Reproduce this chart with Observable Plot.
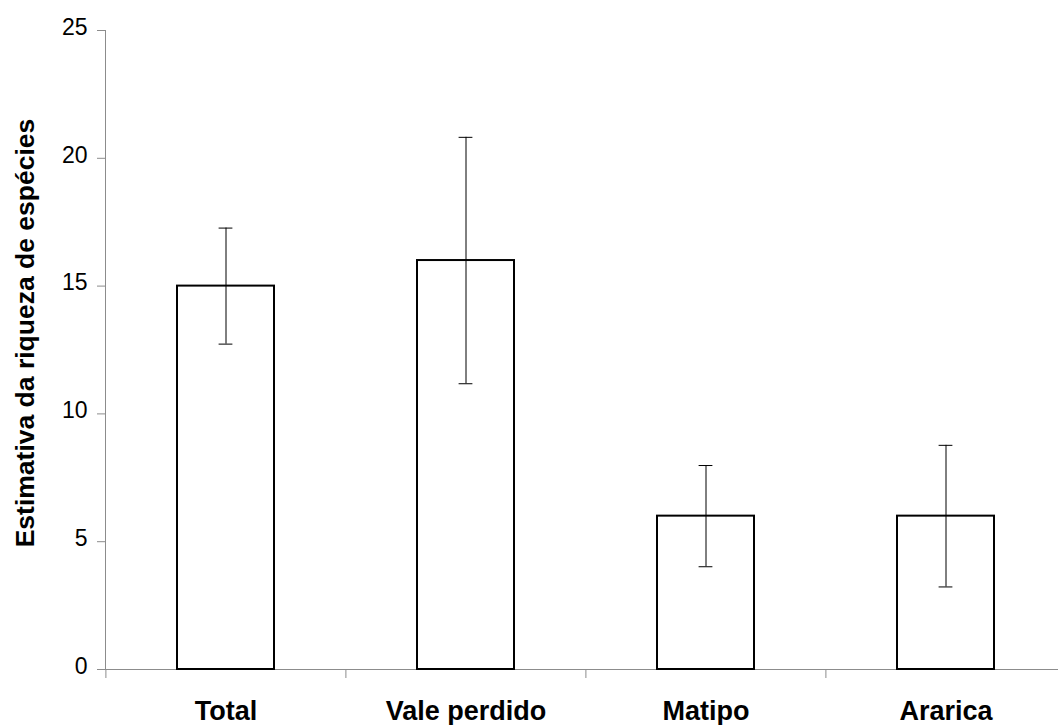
<!DOCTYPE html>
<html>
<head>
<meta charset="utf-8">
<script src="https://cdn.jsdelivr.net/npm/d3@7"></script>
<script src="https://cdn.jsdelivr.net/npm/@observablehq/plot@0.6"></script>
<style>
  html, body { margin: 0; padding: 0; background: #fff; }
  #chart svg { display: block; }
</style>
</head>
<body>
<div id="chart"></div>
<script>
const categories = ["Total", "Vale perdido", "Matipo", "Ararica"];
const values = [15, 16, 6, 6];
const errors = [2.27, 4.82, 1.98, 2.77];
const yTicks = [0, 5, 10, 15, 20, 25];
const yTitle = "Estimativa da riqueza de espécies";

const data = categories.map((c, i) => ({
  cat: c,
  v: values[i],
  lo: values[i] - errors[i],
  hi: values[i] + errors[i]
}));

const font = "'Liberation Sans', Arial, Helvetica, sans-serif";
const axisGray = "#8c8c8c";
const noLabel = () => "";

const chart = Plot.plot({
  width: 1058,
  height: 725,
  marginLeft: 105,
  marginRight: 0,
  marginTop: 30,
  marginBottom: 56,
  style: { fontFamily: font, background: "#fff", color: "#000" },
  x: { type: "band", domain: categories, range: [105.5, 1066.5], paddingInner: 0.595, paddingOuter: 0.2975, axis: null },
  y: { domain: [0, 25], ticks: yTicks, axis: null },
  marks: [
    Plot.frame({ anchor: "left", stroke: axisGray, strokeWidth: 1 }),
    Plot.ruleY([0], { stroke: axisGray, strokeWidth: 1 }),
    // y ticks
    Plot.axisY({ ticks: yTicks, tickSize: 8, tickFormat: noLabel, stroke: axisGray, label: null }),
    // y tick labels
    Plot.axisY({ ticks: yTicks, tickSize: 0, tickPadding: 18, fontSize: 23, fill: "#000", dy: -3, label: null }),
    // category boundary ticks
    Plot.axisX({ tickSize: 9, tickFormat: noLabel, stroke: axisGray, dx: -120.1, label: null }),
    // category labels
    Plot.axisX({ tickSize: 0, tickPadding: 31, fontSize: 27, fontWeight: "bold", fill: "#000", label: null }),
    Plot.barY(data, { x: "cat", y: "v", fill: "#fff", stroke: "#000", strokeWidth: 2 }),
    Plot.ruleX(data, { x: "cat", y1: "lo", y2: "hi", stroke: "#000", strokeWidth: 1 }),
    Plot.tickY(data, { x: "cat", y: "hi", stroke: "#000", strokeWidth: 1, insetLeft: 41.6, insetRight: 41.6 }),
    Plot.tickY(data, { x: "cat", y: "lo", stroke: "#000", strokeWidth: 1, insetLeft: 41.6, insetRight: 41.6 }),
    Plot.text([yTitle], { frameAnchor: "left", textAnchor: "middle", rotate: -90, dx: -80, dy: -17, fontSize: 26.5, fontWeight: "bold", fill: "#000" })
  ]
});

document.getElementById("chart").appendChild(chart);
</script>
</body>
</html>
